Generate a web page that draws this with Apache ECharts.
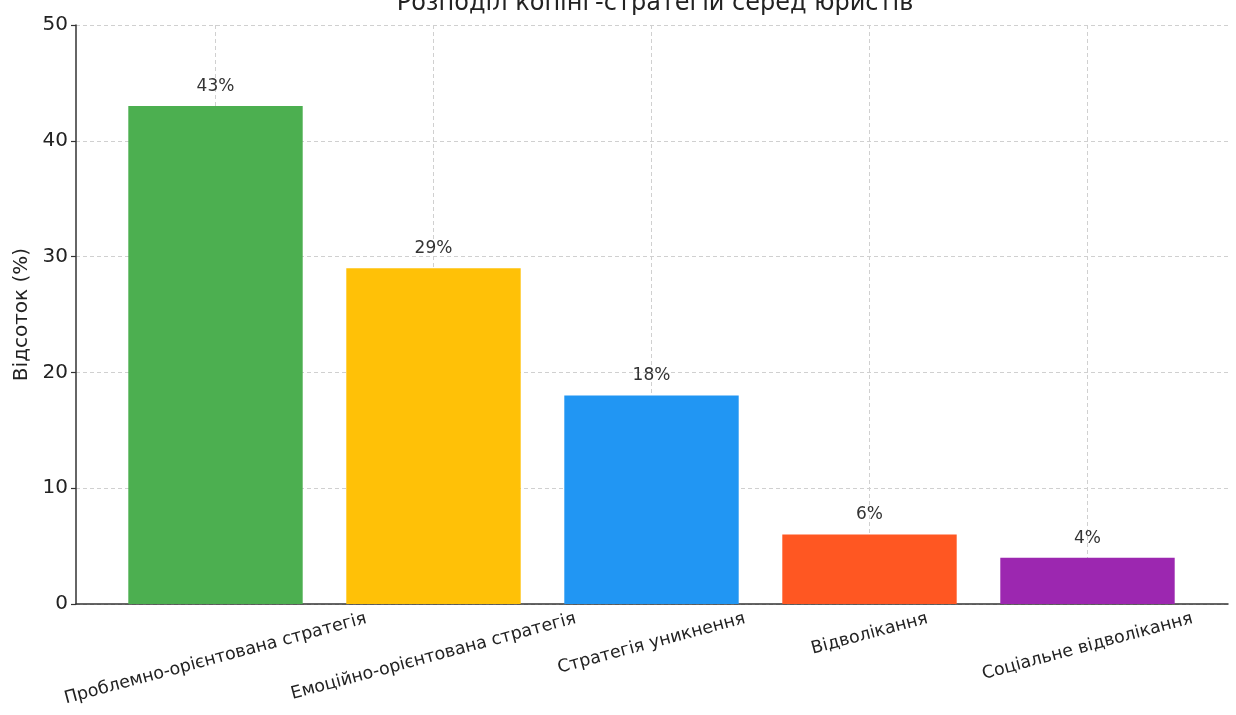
<!DOCTYPE html>
<html>
<head>
<meta charset="utf-8">
<script src="https://cdn.jsdelivr.net/npm/echarts@6/dist/echarts.min.js"></script>
<style>
html,body{margin:0;padding:0;background:#fff;}
#chart{width:1236px;height:715px;}
</style>
</head>
<body>
<div id="chart"></div>
<script>
const titleText = 'Розподіл копінг-стратегій серед юристів';
const yAxisName = 'Відсоток (%)';
const categories = [
  'Проблемно-орієнтована стратегія',
  'Емоційно-орієнтована стратегія',
  'Стратегія уникнення',
  'Відволікання',
  'Соціальне відволікання'
];
const values = [43, 29, 18, 6, 4];
const colors = ['#4CAF50', '#FFC107', '#2196F3', '#FF5722', '#9C27B0'];
const yTicks = [0, 10, 20, 30, 40, 50];

const FONT = '"DejaVu Sans", sans-serif';
const labelSize = 17.4;
const rot = 15 * Math.PI / 180;
const cv = document.createElement('canvas').getContext('2d');
cv.font = labelSize + 'px ' + FONT;

// emulate matplotlib centered rotated labels: shift each label down by half its rotated box height
const shifts = categories.map(function (c) {
  const L = cv.measureText(c).width;
  const h = labelSize;
  const H = L * Math.sin(rot) + h * Math.cos(rot);
  return 6 + H / 2;
});
const rich = { t: { fontFamily: FONT, fontSize: labelSize, color: '#222', height: labelSize } };
shifts.forEach(function (D, i) {
  rich['g' + i] = { fontSize: 1, height: 2 * D * Math.cos(rot) };
});
const catData = categories.map(function (c, i) {
  return {
    value: c,
    textStyle: {
      align: 'center',
      verticalAlign: 'middle',
      padding: [0, 2 * shifts[i] * Math.sin(rot), 0, 0]
    }
  };
});

const gridTop = 25, gridBottom = 111;
const chart = echarts.init(document.getElementById('chart'), null, { renderer: 'canvas' });
chart.setOption({
  backgroundColor: '#ffffff',
  animation: false,
  title: {
    text: titleText,
    left: 650,
    top: -13,
    textAlign: 'center',
    textStyle: { fontFamily: FONT, fontSize: 24, fontWeight: 'normal', color: '#222' }
  },
  grid: [
    { left: 76, right: 8, top: gridTop, bottom: gridBottom, containLabel: false, outerBoundsMode: 'none' },
    { left: 106.5, width: 1090, top: gridTop, bottom: gridBottom, containLabel: false, outerBoundsMode: 'none' }
  ],
  xAxis: [
    {
      gridIndex: 0, type: 'value', min: 0, max: 1,
      axisLine: { show: true, lineStyle: { color: '#333', width: 1.5 } },
      axisTick: { show: false }, axisLabel: { show: false }, splitLine: { show: false }
    },
    {
      gridIndex: 1, type: 'category', data: catData,
      axisLine: { show: false },
      axisTick: { show: true, inside: true, alignWithLabel: true, length: 5, lineStyle: { color: '#333', width: 1.2 } },
      splitLine: { show: true, alignWithLabel: true, lineStyle: { color: '#d0d0d0', type: [4, 3], width: 1 } },
      axisLabel: {
        interval: 0, rotate: 15, margin: 0, hideOverlap: false,
        align: 'center', verticalAlign: 'middle',
        fontFamily: FONT, fontSize: labelSize, color: '#222',
        formatter: function (v, i) { return '{g' + i + '| }\n{t|' + v + '}'; },
        rich: rich
      }
    }
  ],
  yAxis: [
    {
      gridIndex: 0, type: 'value', min: 0, max: 50, interval: 10,
      name: yAxisName, nameLocation: 'middle', nameGap: 37,
      nameTextStyle: { fontFamily: FONT, fontSize: 20, color: '#222' },
      axisLine: { show: true, lineStyle: { color: '#333', width: 1.5 } },
      axisTick: { show: true, length: 5, lineStyle: { color: '#333', width: 1.2 } },
      axisLabel: { margin: 8, fontFamily: FONT, fontSize: 20, color: '#222' },
      splitLine: { show: true, lineStyle: { color: '#d0d0d0', type: [4, 3], width: 1 } }
    },
    {
      gridIndex: 1, type: 'value', min: 0, max: 50, interval: 10, show: false,
      splitLine: { show: false }
    }
  ],
  series: [{
    type: 'bar',
    xAxisIndex: 1, yAxisIndex: 1,
    barWidth: '80%',
    data: values.map(function (v, i) { return { value: v, itemStyle: { color: colors[i] } }; }),
    label: {
      show: true, position: 'top', distance: 11,
      formatter: '{c}%',
      fontFamily: FONT, fontSize: 17, color: '#333'
    }
  }]
});
</script>
</body>
</html>
